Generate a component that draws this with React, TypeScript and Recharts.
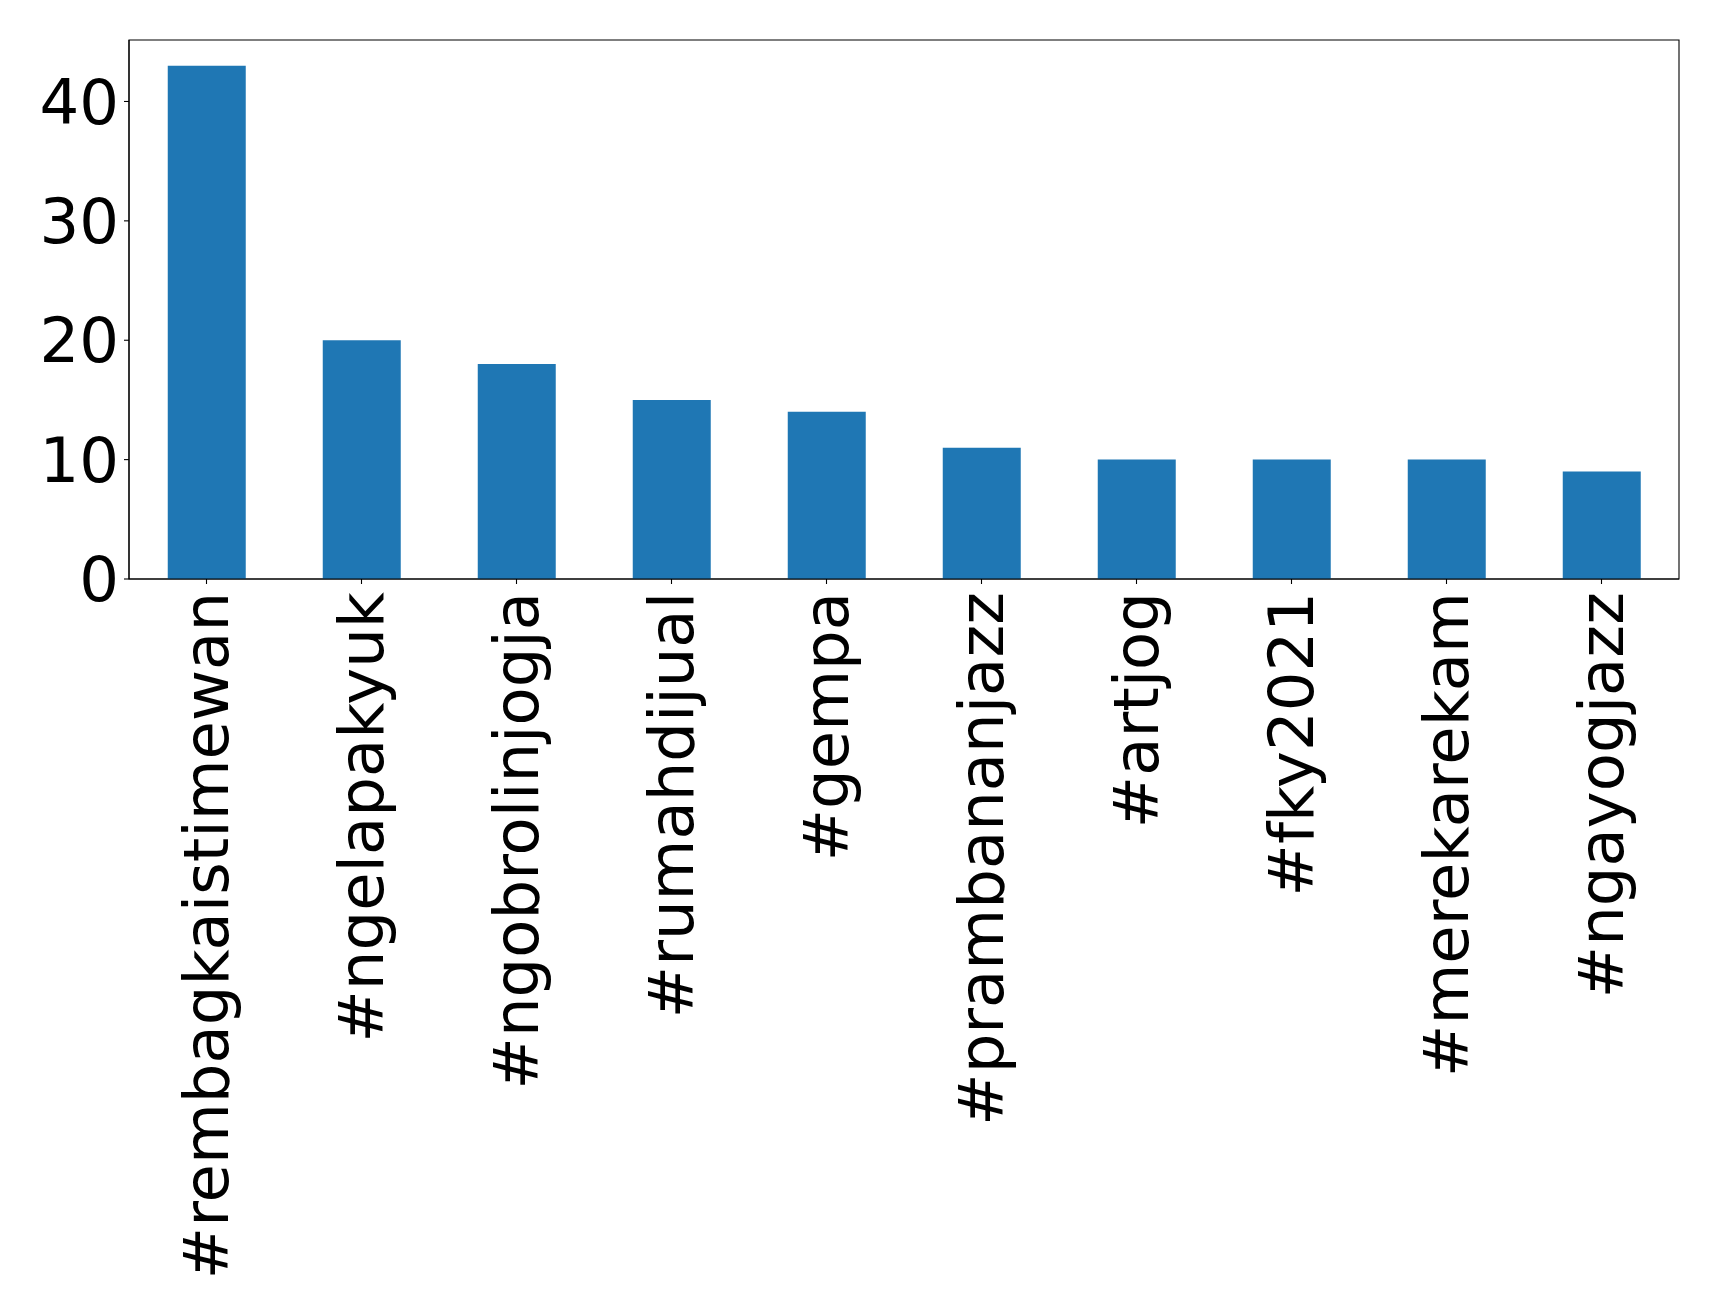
import { BarChart, Bar, XAxis, YAxis, ReferenceArea } from 'recharts'

// ── Data ──────────────────────────────────────────────────────────────────────

const HASHTAGS = [
  '#rembagkaistimewan',
  '#ngelapakyuk',
  '#ngobrolinjogja',
  '#rumahdijual',
  '#gempa',
  '#prambananjazz',
  '#artjog',
  '#fky2021',
  '#merekarekam',
  '#ngayogjazz',
]

const COUNTS = [43, 20, 18, 15, 14, 11, 10, 10, 10, 9]

const Y_TICKS = [0, 10, 20, 30, 40]
const Y_MAX = 45.15

const data = HASHTAGS.map((tag, i) => ({ tag, count: COUNTS[i] }))

const FONT = '"DejaVu Sans", sans-serif'
const FONT_SIZE = 62.5

// rotated category label, baseline shifted so the text box is centred on the tick
function RotatedTick({ x, y, payload }: any) {
  return (
    <text
      transform={`translate(${x + 21},${y + 6}) rotate(-90)`}
      textAnchor="end"
      fontSize={FONT_SIZE}
      fontFamily={FONT}
      fill="#000"
    >
      {payload.value}
    </text>
  )
}

export default function App() {
  return (
    <div style={{ width: 1719, height: 1315, background: '#fff' }}>
      <style>{'body{margin:0}'}</style>
      <BarChart
        width={1719}
        height={1315}
        data={data}
        margin={{ top: 40, right: 40, left: 0, bottom: 0 }}
        barCategoryGap="25%"
      >
        <XAxis
          dataKey="tag"
          interval={0}
          height={736}
          tickSize={5}
          stroke="#000"
          tick={<RotatedTick />}
          axisLine={{ stroke: '#000', strokeWidth: 1.1 }}
          tickLine={{ stroke: '#000', strokeWidth: 1.1 }}
        />
        <YAxis
          domain={[0, Y_MAX]}
          ticks={Y_TICKS}
          width={129}
          tickSize={5}
          tickMargin={5}
          stroke="#000"
          allowDataOverflow
          tick={{ fontSize: FONT_SIZE, fontFamily: FONT, fill: '#000' }}
          axisLine={{ stroke: '#000', strokeWidth: 1.1 }}
          tickLine={{ stroke: '#000', strokeWidth: 1.1 }}
        />
        <Bar dataKey="count" fill="#1f77b4" isAnimationActive={false} />
        {/* plot frame */}
        <ReferenceArea
          x1={HASHTAGS[0]}
          x2={HASHTAGS[HASHTAGS.length - 1]}
          y1={0}
          y2={Y_MAX}
          fill="none"
          fillOpacity={0}
          stroke="#000"
          strokeWidth={1.1}
          strokeOpacity={1}
          ifOverflow="visible"
        />
      </BarChart>
    </div>
  )
}
